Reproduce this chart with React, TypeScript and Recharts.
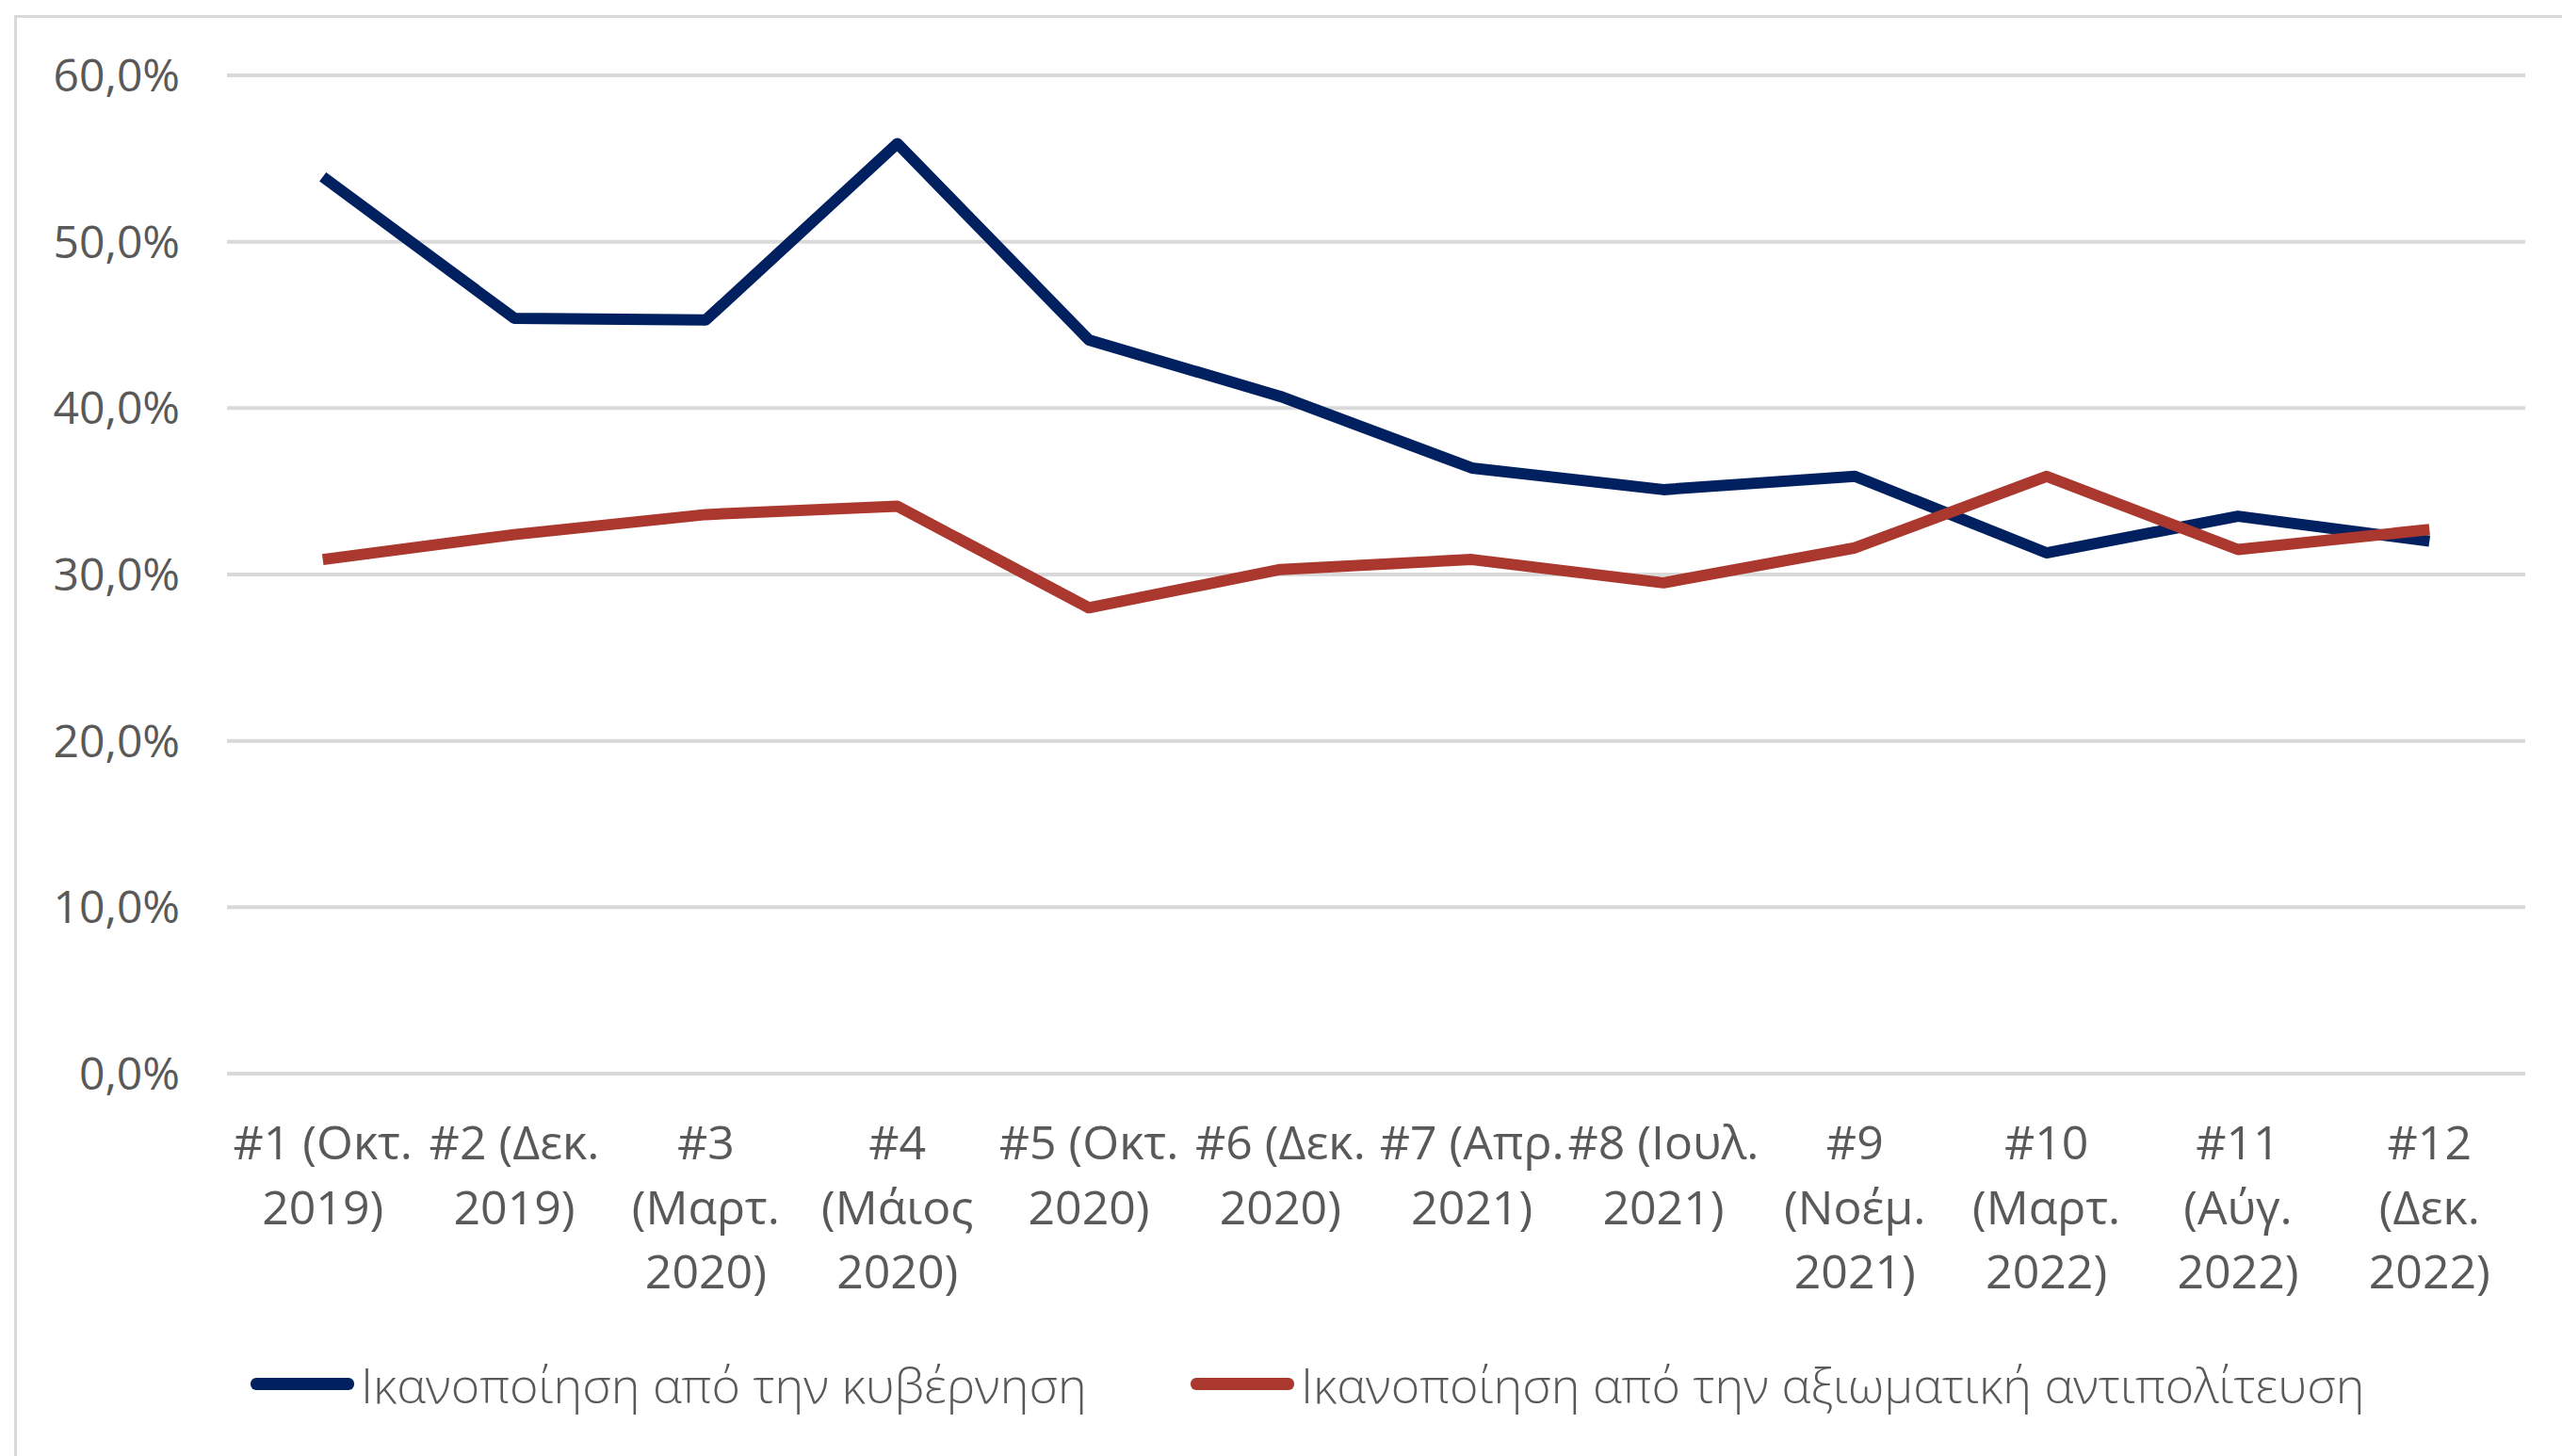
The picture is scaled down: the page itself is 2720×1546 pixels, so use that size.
import * as React from 'react';
import { LineChart, Line, XAxis, YAxis, CartesianGrid } from 'recharts';

// survey waves (x categories), line breaks follow the original wrapping
const waves = [
  '#1 (Οκτ.\n2019)',
  '#2 (Δεκ.\n2019)',
  '#3\n(Μαρτ.\n2020)',
  '#4\n(Μάιος\n2020)',
  '#5 (Οκτ.\n2020)',
  '#6 (Δεκ.\n2020)',
  '#7 (Απρ.\n2021)',
  '#8 (Ιουλ.\n2021)',
  '#9\n(Νοέμ.\n2021)',
  '#10\n(Μαρτ.\n2022)',
  '#11\n(Αύγ.\n2022)',
  '#12\n(Δεκ.\n2022)',
];

const govSatisfaction = [53.9, 45.4, 45.3, 55.9, 44.1, 40.7, 36.4, 35.1, 35.9, 31.3, 33.5, 32.0];
const oppSatisfaction = [30.9, 32.4, 33.6, 34.1, 28.0, 30.3, 30.9, 29.5, 31.6, 35.9, 31.5, 32.7];

const yTicks = [0, 10, 20, 30, 40, 50, 60];

const seriesNames = {
  gov: 'Ικανοποίηση από την κυβέρνηση',
  opp: 'Ικανοποίηση από την αξιωματική αντιπολίτευση',
};

const NAVY = '#002060';
const RED = '#ab382e';
const TEXT = '#595959';
const FONT = '"Open Sans", sans-serif';

const data = waves.map((w, i) => ({ wave: w, gov: govSatisfaction[i], opp: oppSatisfaction[i] }));

const fmtPct = (v: number) => v.toFixed(1).replace('.', ',') + '%';

function WaveTick({ x, y, payload }: any) {
  const lines = String(payload.value).split('\n');
  return (
    <text x={x} y={y} textAnchor="middle" fill={TEXT} fontSize={50} fontFamily={FONT}>
      {lines.map((l, i) => (
        <tspan key={i} x={x} dy={i === 0 ? 91 : 68.5}>
          {l}
        </tspan>
      ))}
    </text>
  );
}

function LegendItem({ color, label, left }: { color: string; label: string; left: number }) {
  return (
    <div style={{ position: 'absolute', left, top: 0, height: 80, display: 'flex', alignItems: 'center' }}>
      <div style={{ width: 110, height: 13, borderRadius: 6, background: color, marginRight: 7 }} />
      <span style={{ fontFamily: FONT, fontSize: 52, fontWeight: 300, color: TEXT, whiteSpace: 'nowrap' }}>
        {label}
      </span>
    </div>
  );
}

export default function App() {
  return (
    <div
      style={{
        position: 'fixed',
        left: 0,
        top: 0,
        width: 2720,
        height: 1546,
        overflow: 'hidden',
        background: '#fff',
      }}
    >
      <div
        style={{
          position: 'absolute',
          left: 15,
          top: 16,
          width: 2760,
          height: 1600,
          border: '3px solid #d9d9d9',
        }}
      />
      <div style={{ position: 'absolute', left: 0, top: 0 }}>
        <LineChart width={2720} height={1546} data={data} margin={{ top: 80, right: 39, left: 0, bottom: 106 }}>
          <CartesianGrid vertical={false} stroke="#d9d9d9" strokeWidth={4} />
          <XAxis
            dataKey="wave"
            interval={0}
            axisLine={false}
            tickLine={false}
            tickSize={0}
            tickMargin={0}
            height={300}
            padding={{ left: 101.7, right: 101.7 }}
            tick={<WaveTick />}
          />
          <YAxis
            domain={[0, 60]}
            ticks={yTicks}
            width={241}
            axisLine={false}
            tickLine={false}
            tickSize={0}
            tickMargin={50}
            tickFormatter={fmtPct}
            tick={{ fill: TEXT, fontSize: 48, fontFamily: FONT }}
          />
          <Line
            dataKey="gov"
            name={seriesNames.gov}
            stroke={NAVY}
            strokeWidth={12}
            strokeLinejoin="round"
            dot={false}
            activeDot={false}
            isAnimationActive={false}
          />
          <Line
            dataKey="opp"
            name={seriesNames.opp}
            stroke={RED}
            strokeWidth={12}
            strokeLinejoin="round"
            dot={false}
            activeDot={false}
            isAnimationActive={false}
          />
        </LineChart>
      </div>
      <div style={{ position: 'absolute', left: 0, top: 1429, width: 2720, height: 80 }}>
        <LegendItem color={NAVY} label={seriesNames.gov} left={266} />
        <LegendItem color={RED} label={seriesNames.opp} left={1264} />
      </div>
    </div>
  );
}
